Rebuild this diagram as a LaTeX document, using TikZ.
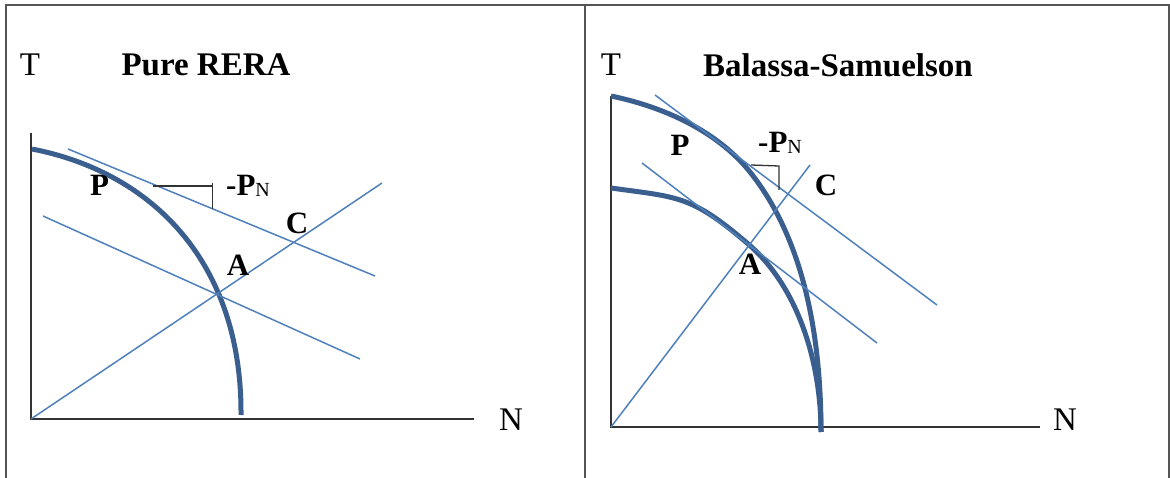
\documentclass[tikz,border=0pt]{standalone}
\usepackage{fontspec}
\setmainfont{Liberation Serif}
\definecolor{curveblue}{HTML}{3A5F8E}
\definecolor{lineblue}{HTML}{4F81BD}
\definecolor{axisgray}{HTML}{333333}
\definecolor{framegray}{HTML}{555555}
\tikzset{
  frameline/.style={draw=framegray, line width=1.5pt},
  axisline/.style={draw=axisgray, line width=1.3pt},
  ppf/.style={draw=curveblue, line width=5pt},
  thinline/.style={draw=lineblue, line width=1.5pt},
  slopemark/.style={draw=axisgray, line width=1.3pt},
  axislabel/.style={inner sep=0pt, font=\fontsize{33}{36}\selectfont},
  titlelabel/.style={inner sep=0pt, font=\fontsize{33}{36}\selectfont\bfseries},
  ptlabel/.style={inner sep=0pt, font=\fontsize{31}{34}\selectfont\bfseries},
}
\newcommand{\minusPN}{-P\raisebox{-1.5pt}{\fontsize{20}{20}\selectfont\mdseries N}}
\begin{document}
\begin{tikzpicture}[x=1pt,y=-1pt]
\useasboundingbox (0,0) rectangle (1170,478);
\fill[white] (0,0) rectangle (1170,478);
% frame
\draw[frameline] (6,478) -- (6,5) -- (1169,5) -- (1169,478);
\draw[frameline] (585,5) -- (585,478);

% ---------- left panel ----------
\coordinate (LO) at (31,419);
\coordinate (LYt) at (31,133);
\coordinate (LXe) at (474,419);
\draw[axisline] (LYt) -- (LO) -- (LXe);
\draw[ppf] (32,149) .. controls (155,173) and (242,265) .. (241,415);
\coordinate (LU1) at (68,149);
\coordinate (LU2) at (375,276);
\draw[thinline] (LU1) -- (LU2);
\coordinate (LL1) at (43,216);
\coordinate (LL2) at (360,359);
\draw[thinline] (LL1) -- (LL2);
\coordinate (LR2) at (382,183);
\draw[thinline] (LO) -- (LR2);
\draw[slopemark] (152.7,186) -- (212.7,186);
\draw[slopemark] (212.7,183) -- (212.7,209);
\node[axislabel] (LT) at (30,65) {T};
\node[titlelabel] (Ltitle) at (206,65) {Pure RERA};
\node[axislabel] (LN) at (511,420) {N};
\node[ptlabel] (LP) at (99.5,185) {P};
\node[ptlabel, anchor=west] (LPN) at (226,186) {\minusPN};
\node[ptlabel] (LC) at (297,223) {C};
\node[ptlabel] (LA) at (238,265) {A};

% ---------- right panel ----------
\coordinate (RO) at (611,427);
\coordinate (RYt) at (611,96);
\coordinate (RXe) at (1040,427);
\draw[axisline] (RYt) -- (RO) -- (RXe);
\draw[ppf] (611,96) .. controls (664,107) and (717,131) .. (750,172)
                    .. controls (806,242) and (821,342) .. (821,432);
\draw[ppf] (611,188) .. controls (678,197.4) and (690.8,194.9) .. (747,243)
                     .. controls (799,287) and (821,364) .. (821,432);
\coordinate (RU1) at (655,95);
\coordinate (RU2) at (937,305);
\draw[thinline] (RU1) -- (RU2);
\coordinate (RL1) at (642,163);
\coordinate (RL2) at (877,343);
\draw[thinline] (RL1) -- (RL2);
\coordinate (RR2) at (810,165);
\draw[thinline] (RO) -- (RR2);
\draw[slopemark] (751,165) -- (779,166) -- (779,190);
\node[axislabel] (RT) at (611,65) {T};
\node[titlelabel] (Rtitle) at (838,65) {Balassa-Samuelson};
\node[axislabel] (RN) at (1065,420) {N};
\node[ptlabel] (RP) at (680,145) {P};
\node[ptlabel, anchor=west] (RPN) at (758,143) {\minusPN};
\node[ptlabel] (RC) at (826,185) {C};
\node[ptlabel] (RA) at (750,264) {A};
\end{tikzpicture}
\end{document}
